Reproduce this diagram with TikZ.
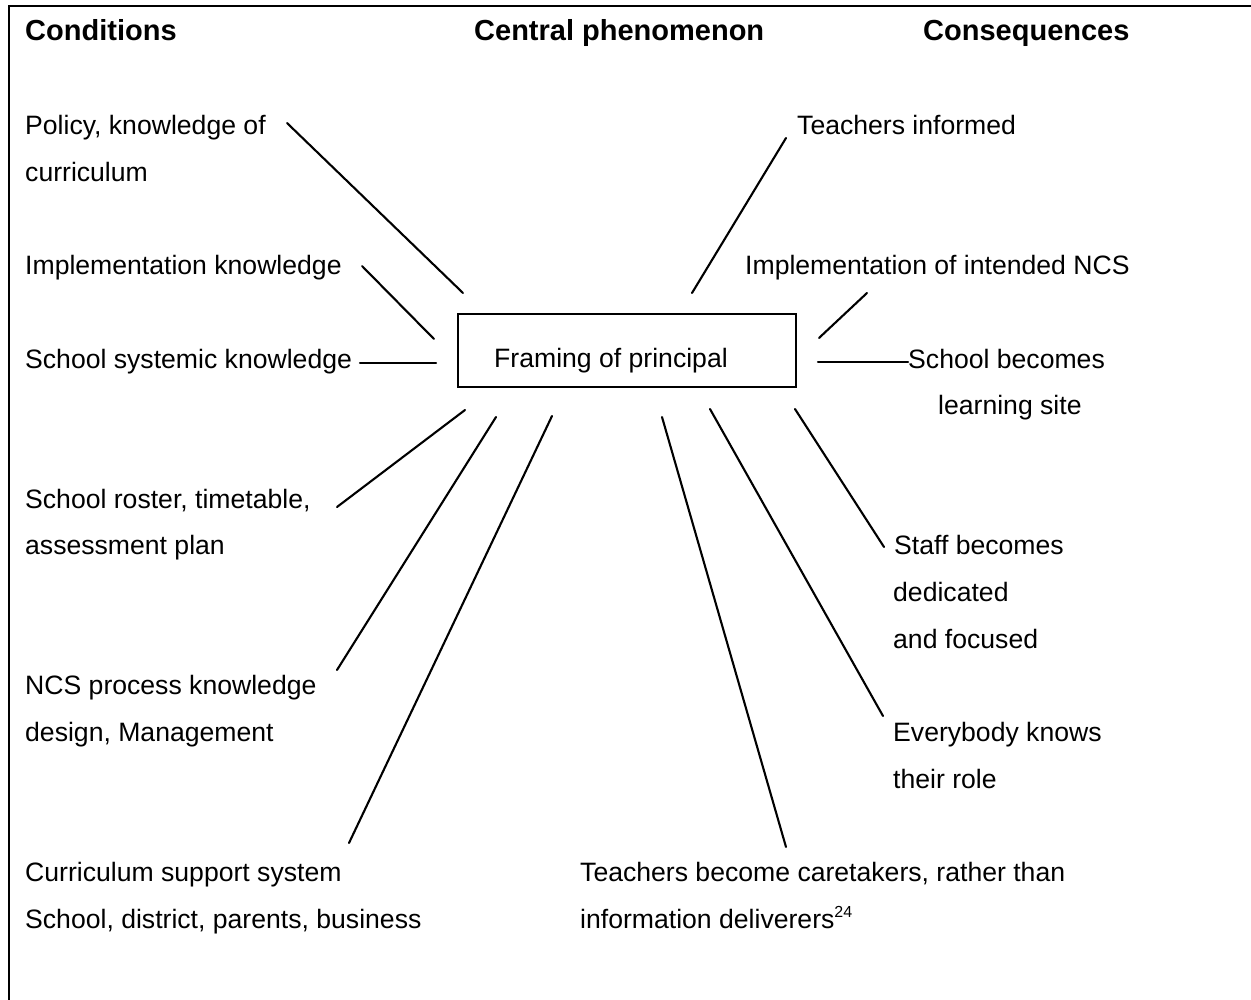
\documentclass[tikz,border=0pt]{standalone}
\usepackage{fontspec}
\setmainfont{Liberation Sans}
\begin{document}
\begin{tikzpicture}[x=1pt,y=-1pt,
  lbl/.style={anchor=base west, inner sep=0pt, font=\fontsize{26.6}{30}\selectfont},
  head/.style={anchor=base west, inner sep=0pt, font=\fontsize{29}{32}\selectfont\bfseries},
  spoke/.style={line width=2.1pt, line cap=round},
  frame/.style={line width=2.1pt},
  centralbox/.style={draw, line width=2.1pt, inner sep=0pt, minimum width=338pt, minimum height=73pt}]
\useasboundingbox (0,0) rectangle (1251,1000);

% page frame: top rule and left rule
\coordinate (ftl) at (9,6);
\coordinate (ftr) at (1251,6);
\coordinate (fbl) at (9,1000);
\draw[frame] (ftr) -- (ftl) -- (fbl);

% column headings
\node[head] (hcond) at (25,41) {Conditions};
\node[head] (hcent) at (474,41) {Central phenomenon};
\node[head] (hcons) at (923,41) {Consequences};

% central phenomenon
\node[centralbox] (box) at (627,350.5) {};
\node[lbl] (phen) at (494,368) {Framing of principal};

% conditions (left column), baselines on a 46.65pt grid
\node[lbl] (c1a) at (25,135) {Policy, knowledge of};
\node[lbl] (c1b) at (25,181.7) {curriculum};
\node[lbl] (c2) at (25,275) {Implementation knowledge};
\node[lbl] (c3) at (25,368.3) {School systemic knowledge};
\node[lbl] (c4a) at (25,508.2) {School roster, timetable,};
\node[lbl] (c4b) at (25,554.9) {assessment plan};
\node[lbl] (c5a) at (25,694.8) {NCS process knowledge};
\node[lbl] (c5b) at (25,741.5) {design, Management};
\node[lbl] (c6a) at (25,881.4) {Curriculum support system};
\node[lbl] (c6b) at (25,928.1) {School, district, parents, business};

% consequences (right side and bottom)
\node[lbl] (q1) at (797,135) {Teachers informed};
\node[lbl] (q2) at (745,275) {Implementation of intended NCS};
\node[lbl] (q3a) at (908,368.3) {School becomes};
\node[lbl] (q3b) at (938,414.9) {learning site};
\node[lbl] (q4a) at (894,554.9) {Staff becomes};
\node[lbl] (q4b) at (893,601.5) {dedicated};
\node[lbl] (q4c) at (893,648.2) {and focused};
\node[lbl] (q5a) at (893,741.5) {Everybody knows};
\node[lbl] (q5b) at (893,788.1) {their role};
\node[lbl] (q6a) at (580,881.4) {Teachers become caretakers, rather than};
\node[lbl] (q6b) at (580,928.1) {information deliverers\raisebox{11pt}{\fontsize{16}{16}\selectfont 24}};

% spoke end points (outer end near a label, inner end near the box)
\coordinate (s1o) at (287,123);  \coordinate (s1i) at (463,293);
\coordinate (s2o) at (362,266);  \coordinate (s2i) at (434,339);
\coordinate (s3o) at (360,363);  \coordinate (s3i) at (436,363);
\coordinate (s4o) at (337,507);  \coordinate (s4i) at (465,410);
\coordinate (s5o) at (337,670);  \coordinate (s5i) at (496,417);
\coordinate (s6o) at (349,843);  \coordinate (s6i) at (552,416);
\coordinate (t1o) at (786,138);  \coordinate (t1i) at (692,293);
\coordinate (t2o) at (867,293);  \coordinate (t2i) at (819,338);
\coordinate (t3o) at (908,362);  \coordinate (t3i) at (818,362);
\coordinate (t4o) at (884,547);  \coordinate (t4i) at (795,409);
\coordinate (t5o) at (883,716);  \coordinate (t5i) at (710,409);
\coordinate (t6o) at (786,847);  \coordinate (t6i) at (662,417);

% spokes
\foreach \s in {s1,s2,s3,s4,s5,s6,t1,t2,t3,t4,t5,t6}
  \draw[spoke] (\s o) -- (\s i);
\end{tikzpicture}
\end{document}
